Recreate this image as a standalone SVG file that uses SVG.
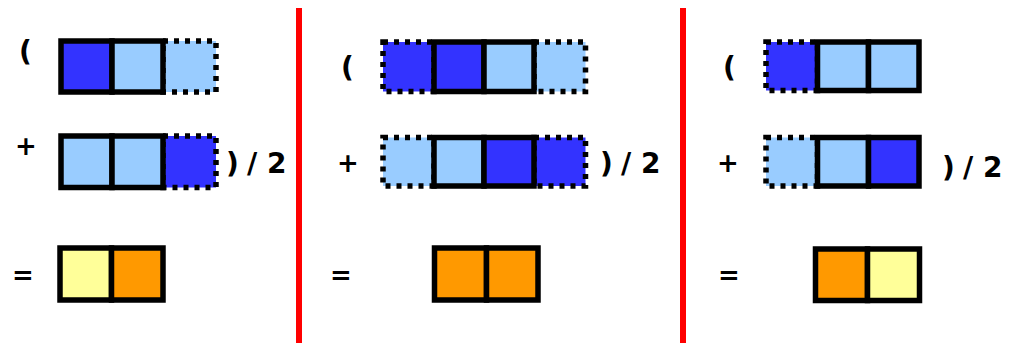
<svg xmlns="http://www.w3.org/2000/svg" width="1018" height="343" viewBox="0 0 1018 343">
<style>
.s{stroke:#000;stroke-width:5.5}
.d{stroke:#000;stroke-width:5.5;stroke-dasharray:5 6}
.db{fill:#3333FF}
.lb{fill:#99CCFF}
.ye{fill:#FFFF99}
.or{fill:#FF9900}
.t{font-family:"DejaVu Sans",sans-serif;font-weight:bold;font-size:26px;fill:#000}
.b{font-size:28px}
.sep{fill:#FF0000}
</style>
<rect width="1018" height="343" fill="#fff"/>
<g id="separators">
<rect class="sep" x="296" y="8" width="6" height="335"/>
<rect class="sep" x="680" y="8" width="6" height="335"/>
</g>
<g id="panel1">
<g id="p1-row1">
<text class="t b" x="19" y="61">(</text>
<rect class="d lb" x="163" y="41" width="53" height="51"/>
<rect class="s db" x="61" y="41" width="51" height="51"/>
<rect class="s lb" x="112" y="41" width="51" height="51"/>
</g>
<g id="p1-row2">
<text class="t" x="15" y="155">+</text>
<rect class="d db" x="163" y="136" width="53" height="51.5"/>
<rect class="s lb" x="61" y="136" width="51" height="51.5"/>
<rect class="s lb" x="112" y="136" width="51" height="51.5"/>
<text class="t b" x="226 247 267" y="173">)/2</text>
</g>
<g id="p1-row3">
<text class="t" x="12" y="284">=</text>
<rect class="s ye" x="60" y="248" width="51.5" height="52"/>
<rect class="s or" x="111.5" y="248" width="51.5" height="52"/>
</g>
</g>
<g id="panel2">
<g id="p2-row1">
<text class="t b" x="341" y="77">(</text>
<rect class="d db" x="383" y="42" width="51" height="49.5"/>
<rect class="d lb" x="534" y="42" width="51.5" height="49.5"/>
<rect class="s db" x="434" y="42" width="50" height="49.5"/>
<rect class="s lb" x="484" y="42" width="50" height="49.5"/>
</g>
<g id="p2-row2">
<text class="t" x="337" y="172">+</text>
<rect class="d lb" x="383" y="137.5" width="51" height="48.5"/>
<rect class="d db" x="534" y="137.5" width="51.5" height="48.5"/>
<rect class="s lb" x="434" y="137.5" width="50" height="48.5"/>
<rect class="s db" x="484" y="137.5" width="50" height="48.5"/>
<text class="t b" x="600 621 641" y="173">)/2</text>
</g>
<g id="p2-row3">
<text class="t" x="330" y="284">=</text>
<rect class="s or" x="434.5" y="248" width="52" height="52"/>
<rect class="s or" x="486.5" y="248" width="51.5" height="52"/>
</g>
</g>
<g id="panel3">
<g id="p3-row1">
<text class="t b" x="723" y="77">(</text>
<rect class="d db" x="766" y="42" width="51.5" height="48.5"/>
<rect class="s lb" x="817.5" y="42" width="51" height="48.5"/>
<rect class="s lb" x="868.5" y="42" width="50.5" height="48.5"/>
</g>
<g id="p3-row2">
<text class="t" x="717" y="172">+</text>
<rect class="d lb" x="766" y="137.5" width="51.5" height="48.5"/>
<rect class="s lb" x="817.5" y="137.5" width="51" height="48.5"/>
<rect class="s db" x="868.5" y="137.5" width="50.5" height="48.5"/>
<text class="t b" x="942 963 983" y="177">)/2</text>
</g>
<g id="p3-row3">
<text class="t" x="718" y="284">=</text>
<rect class="s or" x="815.5" y="249" width="52" height="51.5"/>
<rect class="s ye" x="867.5" y="249" width="52" height="51.5"/>
</g>
</g>
</svg>
